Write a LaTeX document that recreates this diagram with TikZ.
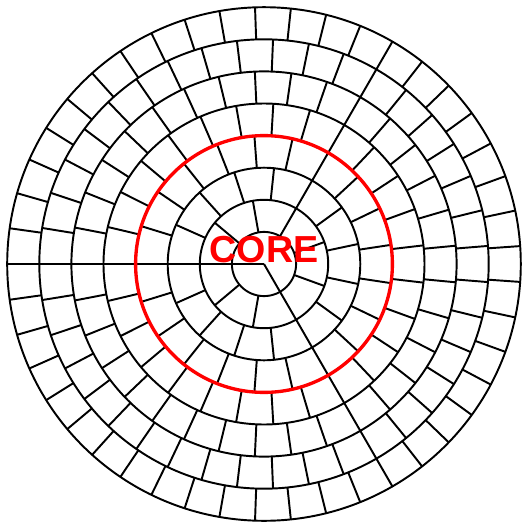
\documentclass[tikz,border=0pt]{standalone}
\usepackage{fontspec}
\setmainfont{Liberation Sans}
\usepackage{tikz}
\usetikzlibrary{calc}

\begin{document}
\begin{tikzpicture}[
  x=0.01cm,y=0.01cm,
  ring/.style={draw=black,line width=0.55pt},
  spoke/.style={black,line width=0.55pt},
  corering/.style={draw=red,line width=0.95pt},
  lab/.style={text=red,inner sep=0pt,font=\fontsize{10.7}{12}\selectfont\bfseries}]

\useasboundingbox (0,0) rectangle (523,526);
\coordinate (o) at (264,262);

% ================= rings and tiles =================
\begin{scope}[shift={(o)}]
  % concentric circles, 8 rings of equal width
  \foreach \k in {1,...,8}
    \draw[ring] (0,0) circle[radius=32.1*\k];
  % inner disk: the two seams
  \draw[spoke] (0,0) -- (180:32.1) (0,0) -- (300:32.1);
  % ring k holds 6k-3 tiles, all starting at 180 deg
  \foreach \k in {2,...,8}{
    \pgfmathtruncatemacro{\n}{6*\k-3}
    \foreach \j in {1,...,\n}
      \draw[spoke] (180+\j*360/\n:32.1*\k-32.1) -- (180+\j*360/\n:32.1*\k);
  }
  % core boundary
  \draw[corering] (0,0) circle[radius=128.4];
\end{scope}

% ================= label =================
\node[lab,anchor=base] (core) at ($(o)+(0,2)$) {CORE};
\end{tikzpicture}
\end{document}
